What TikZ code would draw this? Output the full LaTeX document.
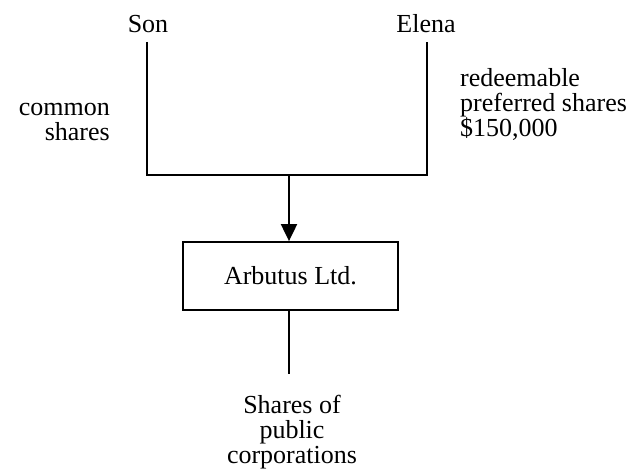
\documentclass[tikz,border=0pt]{standalone}
\usepackage{fontspec}
\setmainfont{Liberation Serif}
\usetikzlibrary{arrows.meta}

\tikzstyle{party}=[inner sep=9pt]
\tikzstyle{company}=[draw,line width=1.8pt,minimum width=215pt,minimum height=68pt,inner sep=0pt]
\tikzstyle{edge} = [draw,line width=2pt,-]
\tikzstyle{sharetext} = [inner sep=0pt]

\begin{document}
\begin{tikzpicture}[x=1pt, y=-1pt, font=\fontsize{26}{25}\selectfont]
    \useasboundingbox (0,0) rectangle (639,474);
    % First the holders and the company
    \node[party] (son) at (148,24) {Son};
    \node[party] (elena) at (426,24) {Elena};
    \node[company] (arbutus) at (290.5,276) {Arbutus Ltd.};
    \node[sharetext, align=center] (public) at (292,432) {Shares of\\public\\corporations};
    % Junction points of the lines
    \coordinate (sonbot) at (147,175);
    \coordinate (elenabot) at (427,175);
    \coordinate (mid) at (289,175);
    \coordinate (pubtop) at (289,374);
    % Connect holders to the company
    \path[edge] (son.south -| sonbot) -- (sonbot) -- (elenabot) -- (elena.south -| elenabot);
    \path[edge, -{Triangle[width=16pt,length=17pt]}] (mid) -- (arbutus.north -| mid);
    \path[edge] (arbutus.south -| mid) -- (pubtop);
    % Share labels
    \node[sharetext, align=right, anchor=east] (common) at (110,122) {common\\shares};
    \node[sharetext, align=left, anchor=west] (preferred) at (460,104) {redeemable\\preferred shares\\\$150,000};
\end{tikzpicture}
\end{document}
